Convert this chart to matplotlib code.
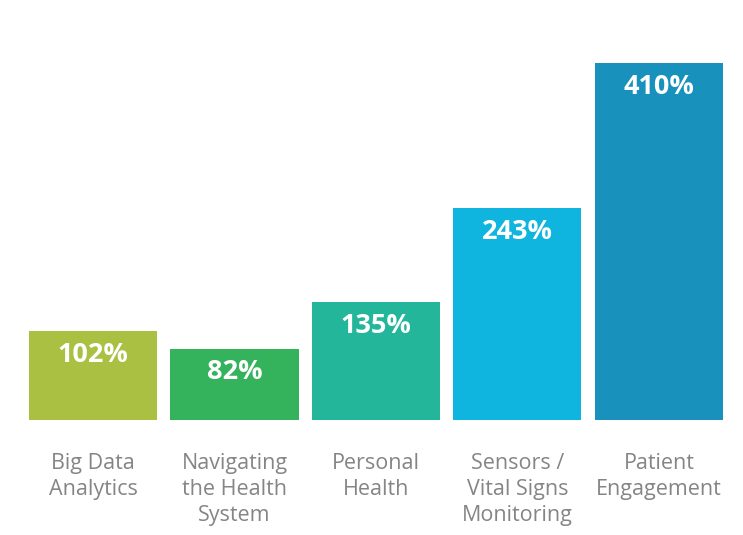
import matplotlib.pyplot as plt
from matplotlib.transforms import blended_transform_factory

categories = ["Big Data\nAnalytics", "Navigating\nthe Health\nSystem", "Personal\nHealth",
              "Sensors /\nVital Signs\nMonitoring", "Patient\nEngagement"]
values = [102, 82, 135, 243, 410]
colors = ["#a9c043", "#34b25c", "#23b69b", "#10b5df", "#1991bd"]

plt.rcParams['font.family'] = ['Open Sans', 'DejaVu Sans']

fig = plt.figure(figsize=(7.43, 5.35), dpi=100)
ax = fig.add_axes([0.03, 0.215, 0.952, 0.667])
x = range(len(values))
bars = ax.bar(x, values, width=0.905, color=colors)
ax.set_xlim(-0.5, len(values) - 0.5)
ax.set_ylim(0, 410)
ax.axis("off")

# value labels inside bar tops
for xi, v in zip(x, values):
    ax.annotate(f"{v}%", (xi, v), xytext=(0, -7.5), textcoords="offset points",
                ha="center", va="top", color="white", fontsize=19.5, fontweight="bold")

# category labels under the bars
trans = blended_transform_factory(ax.transData, ax.transAxes)
for xi, c in zip(x, categories):
    ax.annotate(c, (xi, 0), xycoords=trans, xytext=(0, -24), textcoords="offset points",
                ha="center", va="top", color="#858585", fontsize=15.5, linespacing=1.3)

fig.savefig("out.png", dpi=100)
